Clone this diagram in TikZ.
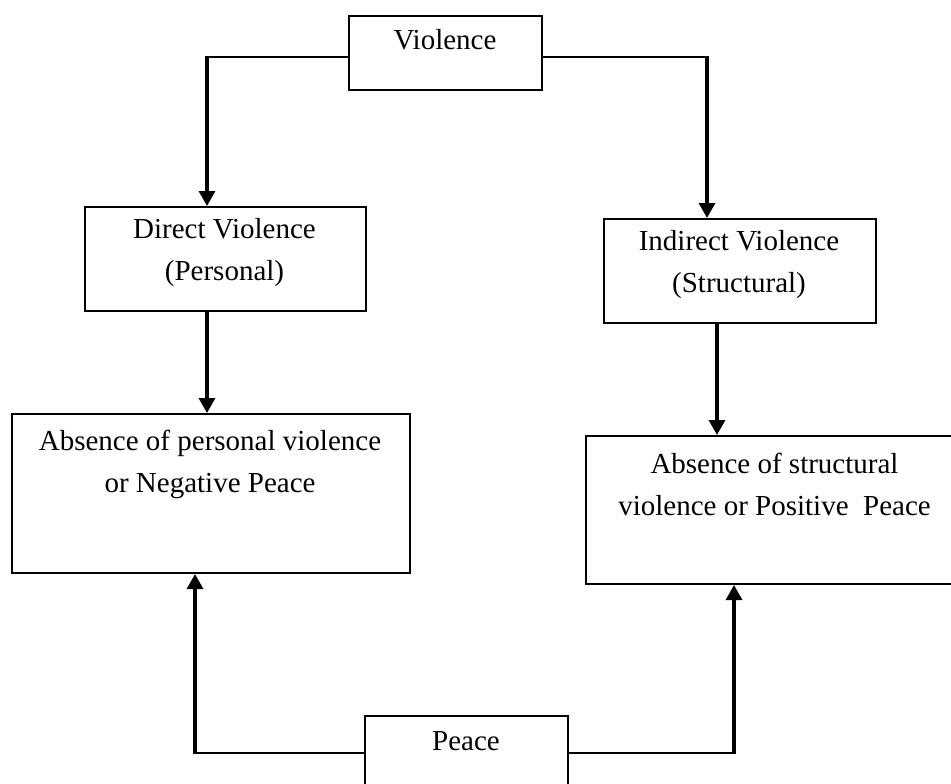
\documentclass[tikz,border=0pt]{standalone}
\usepackage{fontspec}
\setmainfont{Liberation Serif}
\usetikzlibrary{arrows.meta}
\begin{document}
\begin{tikzpicture}[x=0.5pt,y=-0.5pt,
  box/.style={draw,line width=1pt,anchor=north west,inner sep=0pt},
  txt/.style={align=center,inner sep=0pt,font=\fontsize{14.5pt}{21pt}\selectfont},
  hline/.style={line width=1pt},
  varrow/.style={line width=1.6pt,-{Triangle[width=8pt,length=7.5pt]}}]
\useasboundingbox (0,0) rectangle (951,783);
\clip (0,0) rectangle (951,783);
% boxes
\node[box,minimum width=96.5pt,minimum height=37pt] (vio) at (348,15) {};
\node[box,minimum width=140.5pt,minimum height=52pt] (dir) at (84,206) {};
\node[box,minimum width=136pt,minimum height=52pt] (ind) at (603,218) {};
\node[box,minimum width=199pt,minimum height=79.5pt] (absl) at (11,413) {};
\node[box,minimum width=189.5pt,minimum height=74pt] (absr) at (585,435) {};
\node[box,minimum width=101.5pt,minimum height=42pt] (pea) at (364,715) {};
% texts
\node[txt] (tvio) at (445,40) {Violence};
\node[txt] (tdir) at (224.5,253) {Direct Violence\\(Personal)};
\node[txt] (tabl) at (210,464.5) {Absence of personal violence\\or Negative Peace};
\node[txt] (tind) at (739,265) {Indirect Violence\\(Structural)};
\node[txt] (tabr) at (774.5,484) {Absence of structural\\violence or Positive\ \ Peace};
\node[txt] (tpea) at (466,741) {Peace};
% connector bends
\coordinate (c1) at (207,57);
\coordinate (c2) at (707,57);
\coordinate (c4) at (717,0);
\coordinate (c5) at (195,753);
\coordinate (c6) at (734,753);
% violence to direct / indirect
\draw[hline] (vio.west |- c1) -- ([xshift=0.8pt]c1);
\draw[varrow] ([yshift=0.5pt]c1) -- (c1 |- dir.north);
\draw[hline] (vio.east |- c2) -- ([xshift=0.8pt]c2);
\draw[varrow] ([yshift=0.5pt]c2) -- (c2 |- ind.north);
% direct / indirect to absence
\draw[varrow] (dir.south -| c1) -- (absl.north -| c1);
\draw[varrow] (ind.south -| c4) -- (absr.north -| c4);
% peace to absence
\draw[hline] (pea.west |- c5) -- ([xshift=-0.8pt]c5);
\draw[varrow] ([yshift=-0.5pt]c5) -- (c5 |- absl.south);
\draw[hline] (pea.east |- c6) -- ([xshift=0.8pt]c6);
\draw[varrow] ([yshift=-0.5pt]c6) -- (c6 |- absr.south);
\end{tikzpicture}
\end{document}
